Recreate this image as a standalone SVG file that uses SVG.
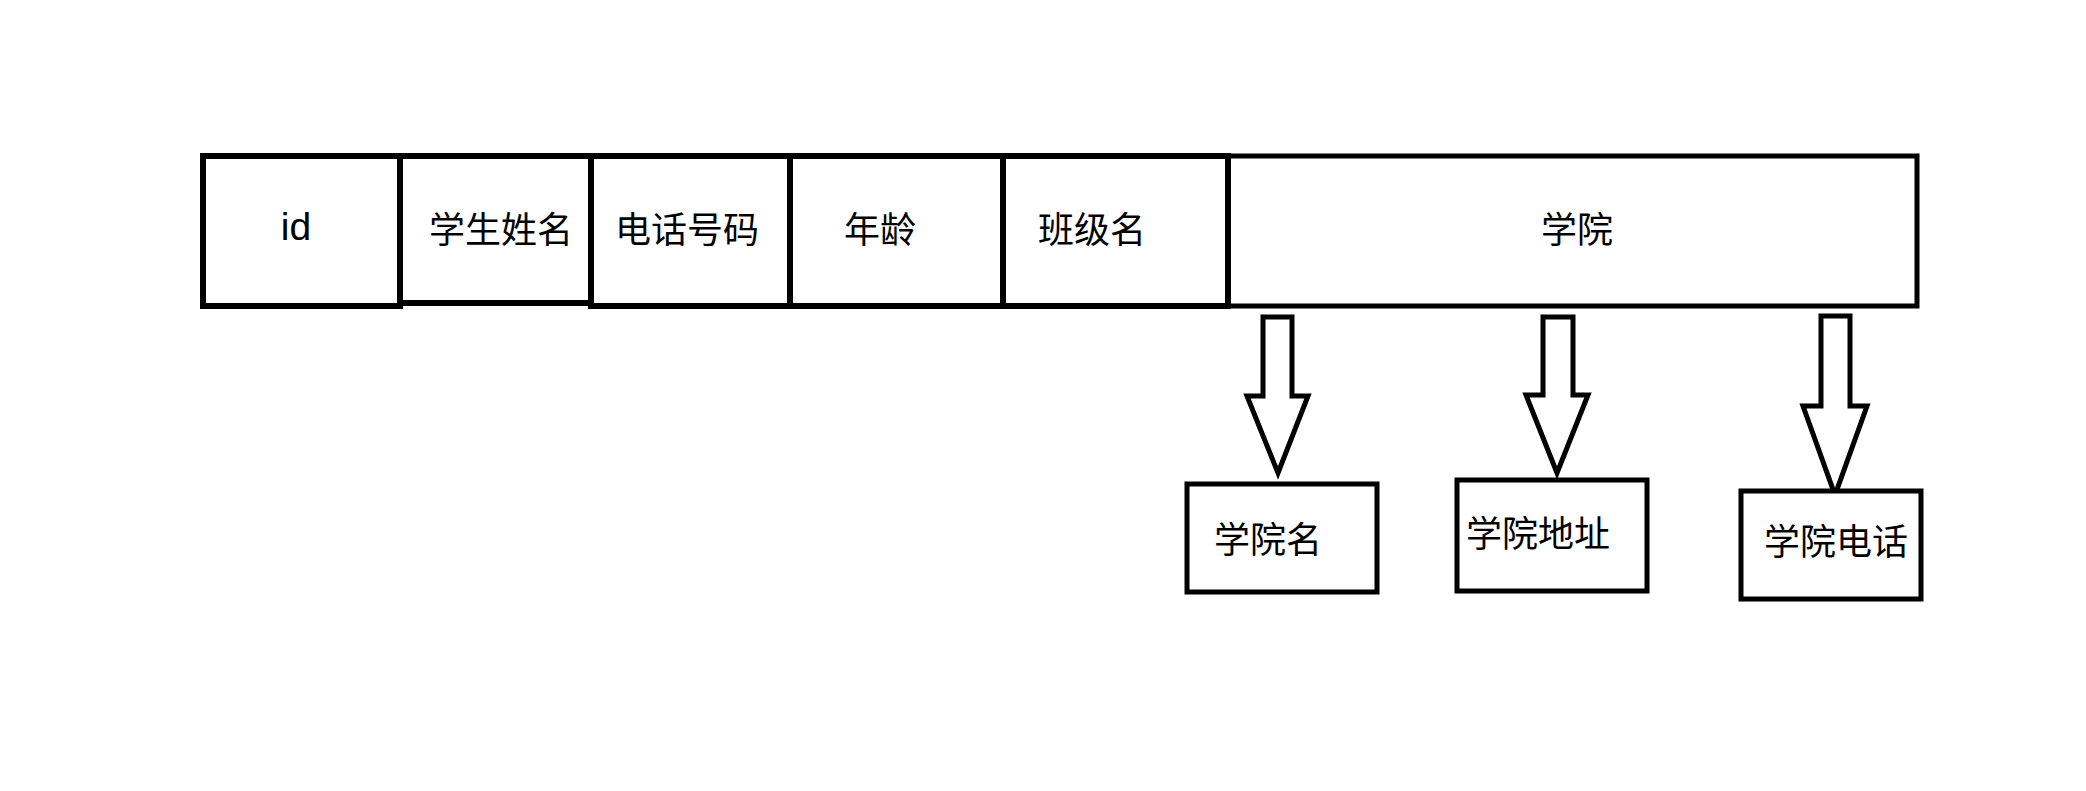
<svg xmlns="http://www.w3.org/2000/svg" width="2086" height="791" viewBox="0 0 2086 791">
<style>
.cell{fill:#fff;stroke:#000;stroke-width:6}
.box{fill:#fff;stroke:#000;stroke-width:5}
.arr{fill:#fff;stroke:#000;stroke-width:5;stroke-linejoin:miter}
.t{font-family:"Liberation Sans","Noto Sans CJK SC",sans-serif;font-size:36px;fill:#000}
.id{font-family:"Liberation Sans",sans-serif;font-size:39px;fill:#000}
</style>
<rect width="2086" height="791" fill="#fff"/>
<g id="cell-xueyuan"><rect class="cell" x="1228" y="156" width="689" height="150" style="stroke-width:5"/><text class="t" x="1541" y="243">学院</text></g>
<g id="cell-banji"><rect class="cell" x="1003" y="156" width="225" height="150"/><text class="t" x="1038" y="243">班级名</text></g>
<g id="cell-nianling"><rect class="cell" x="790" y="156" width="213" height="150"/><text class="t" x="844" y="243">年龄</text></g>
<g id="cell-dianhua"><rect class="cell" x="591" y="156" width="199" height="150"/><text class="t" x="615" y="243">电话号码</text></g>
<g id="cell-id"><rect class="cell" x="203" y="156" width="197" height="150"/><text class="id" x="296" y="240" text-anchor="middle">id</text></g>
<g id="cell-xingming"><rect class="cell" x="400" y="156" width="191" height="147"/><text class="t" x="429" y="243">学生姓名</text></g>
<g id="connectors">
<polygon class="arr" points="1263,317 1292,317 1292,396 1308,396 1278,473 1247,396 1263,396"/>
<polygon class="arr" points="1543,317 1573,317 1573,395 1588,395 1557,473 1526,395 1543,395"/>
<polygon class="arr" points="1821,316 1850,316 1850,406 1867,406 1835,495 1803,406 1821,406"/>
</g>
<g id="box-xueyuanming"><rect class="box" x="1187" y="484" width="190" height="108"/><text class="t" x="1214" y="553">学院名</text></g>
<g id="box-xueyuandizhi"><rect class="box" x="1457" y="480" width="190" height="111"/><text class="t" x="1466" y="547">学院地址</text></g>
<g id="box-xueyuandianhua"><rect class="box" x="1741" y="491" width="180" height="108"/><text class="t" x="1764" y="555">学院电话</text></g>
</svg>
